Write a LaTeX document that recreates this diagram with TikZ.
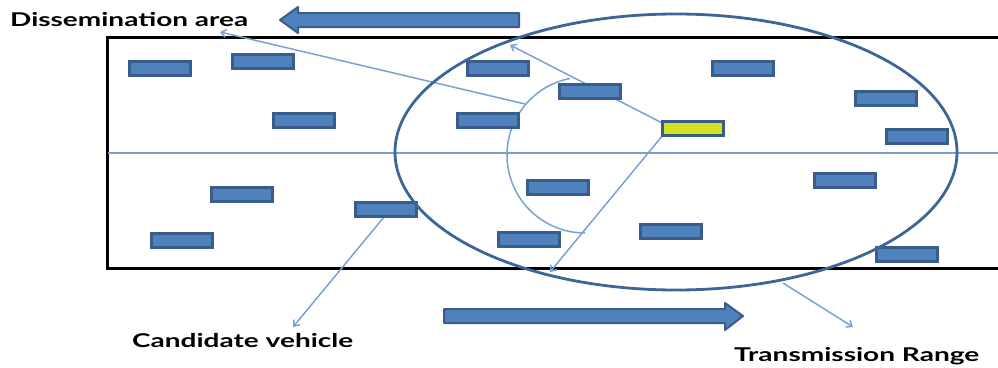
\documentclass[tikz,border=0pt]{standalone}
\usepackage{fontspec}
\setmainfont{Lato}
\usetikzlibrary{arrows.meta}
\definecolor{carfill}{HTML}{4F81BD}
\definecolor{carline}{HTML}{385D8A}
\definecolor{caryellow}{HTML}{D6E022}
\definecolor{thinblue}{HTML}{7BA1D4}
\definecolor{rangeblue}{HTML}{3E6597}
\tikzset{
  car/.style={draw=carline, fill=carfill, line width=2.5pt, minimum width=61pt, minimum height=14pt, inner sep=0pt, anchor=north west},
  caryel/.style={car, fill=caryellow},
  conn/.style={draw=thinblue, line width=1.5pt, -{Straight Barb[length=5pt,width=8pt]}},
  bigarrow/.style={draw=carline, fill=carfill, line width=2pt, line join=round},
  roadline/.style={draw=black, line width=3pt},
  label/.style={anchor=base west, inner sep=0pt, text=black}
}
\newcommand{\lbl}[2]{\resizebox{#1pt}{\height}{\fontsize{19}{19}\selectfont\bfseries #2}}
\begin{document}
\begin{tikzpicture}[x=1pt,y=-1pt]
\useasboundingbox (0,0) rectangle (998,367);
% road
\draw[roadline] (998,37) -- (107,37) -- (107,268) -- (998,268);
\draw[thinblue, line width=1.5pt] (108,153) -- (998,153);
% coordinates
\coordinate (dissTip) at (220,32);
\coordinate (arcPt) at (525,104);
\coordinate (topTip) at (510,45);
\coordinate (yelA) at (670,127);
\coordinate (yelB) at (663,135);
\coordinate (botTip) at (550,272);
\coordinate (candFrom) at (384,217);
\coordinate (candTip) at (293,327);
\coordinate (rangeFrom) at (783,283);
\coordinate (rangeTip) at (853,327);
% connectors
\draw[conn] (arcPt) -- (dissTip);
\draw[conn, {Straight Barb[length=5pt,width=8pt]}-{Straight Barb[length=5pt,width=8pt]}] (yelA) -- (topTip);
\draw[conn] (yelB) -- (botTip);
\draw[conn] (candFrom) -- (candTip);
\draw[conn] (rangeFrom) -- (rangeTip);
% inner arc
\draw[thinblue, line width=1.5pt] (585,155) ++(259:78) arc[start angle=259, end angle=90, radius=78];
% vehicles
\node[car] (v1) at (128,60) {};
\node[car] (v2) at (231,53) {};
\node[car] (v3) at (272,112) {};
\node[car] (v4) at (466,60) {};
\node[car] (v5) at (558,83) {};
\node[car] (v6) at (456,112) {};
\node[car] (v7) at (711,60) {};
\node[car] (v8) at (854,90) {};
\node[car] (v9) at (885,128) {};
\node[caryel] (vy) at (661,120) {};
\node[car] (v11) at (210,186) {};
\node[car] (v12) at (150,232) {};
\node[car] (v13) at (354,201) {};
\node[car] (v14) at (526,179) {};
\node[car] (v15) at (497,231) {};
\node[car] (v16) at (639,223) {};
\node[car] (v17) at (813,172) {};
\node[car] (v18) at (875,246) {};
% transmission range
\draw[rangeblue, line width=2.8pt] (676,152) ellipse[x radius=281, y radius=138];
% big arrows
\draw[bigarrow] (519,13) -- (298,13) -- (298,7) -- (280,20) -- (298,33) -- (298,27) -- (519,27) -- cycle;
\draw[bigarrow] (444,309) -- (725,309) -- (725,303) -- (743,316) -- (725,330) -- (725,323) -- (444,323) -- cycle;
% labels
\node[label] (tDiss) at (10,26) {\lbl{238}{Dissemination area}};
\node[label] (tCand) at (132,347) {\lbl{221}{Candidate vehicle}};
\node[label] (tRange) at (734,361) {\lbl{245}{Transmission Range}};
\end{tikzpicture}
\end{document}
